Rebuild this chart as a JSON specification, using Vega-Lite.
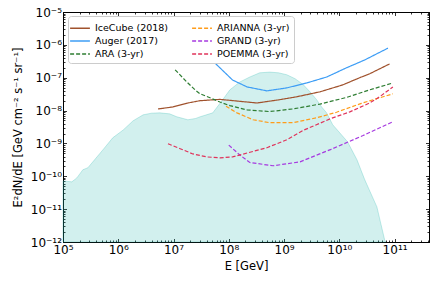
{
  "$schema": "https://vega.github.io/schema/vega-lite/v6.json",
  "autosize": {"type": "none"},
  "width": 366,
  "height": 230,
  "padding": {"left": 63, "top": 12, "right": 7, "bottom": 42},
  "config": {
    "font": "DejaVu Sans",
    "view": {"stroke": "black", "strokeWidth": 1},
    "axis": {
      "domainColor": "black",
      "tickColor": "black",
      "tickWidth": 0.8,
      "grid": false,
      "labelFont": "DejaVu Sans",
      "labelFontSize": 12,
      "labelColor": "black",
      "titleFont": "DejaVu Sans",
      "titleFontSize": 11.5,
      "titleFontWeight": "normal",
      "titleColor": "black"
    }
  },
  "datasets": {
    "model": [
      {"E": 1e5, "F": 7.24e-11},
      {"E": 1.445e5, "F": 6.76e-11},
      {"E": 1.778e5, "F": 8.91e-11},
      {"E": 2.29e5, "F": 1.58e-10},
      {"E": 2.82e5, "F": 1.82e-10},
      {"E": 3.47e5, "F": 2.75e-10},
      {"E": 5.25e5, "F": 6.31e-10},
      {"E": 7.94e5, "F": 1.48e-9},
      {"E": 1.23e6, "F": 2.57e-9},
      {"E": 1.86e6, "F": 4.9e-9},
      {"E": 2.82e6, "F": 7.41e-9},
      {"E": 3.98e6, "F": 8.32e-9},
      {"E": 5.62e6, "F": 8.51e-9},
      {"E": 8.51e6, "F": 7.94e-9},
      {"E": 1.148e7, "F": 6.46e-9},
      {"E": 1.82e7, "F": 5.25e-9},
      {"E": 2.51e7, "F": 5.75e-9},
      {"E": 3.02e7, "F": 6.46e-9},
      {"E": 5.13e7, "F": 8.51e-9},
      {"E": 7.76e7, "F": 2.14e-8},
      {"E": 1.047e8, "F": 4.27e-8},
      {"E": 1.585e8, "F": 7.41e-8},
      {"E": 2.4e8, "F": 1.05e-7},
      {"E": 3.63e8, "F": 1.41e-7},
      {"E": 5.5e8, "F": 1.48e-7},
      {"E": 7.94e8, "F": 1.41e-7},
      {"E": 1.122e9, "F": 1.23e-7},
      {"E": 1.585e9, "F": 9.33e-8},
      {"E": 2.19e9, "F": 6.31e-8},
      {"E": 2.95e9, "F": 3.72e-8},
      {"E": 3.89e9, "F": 2.14e-8},
      {"E": 4.79e9, "F": 1.29e-8},
      {"E": 5.89e9, "F": 8.51e-9},
      {"E": 7.59e9, "F": 3.72e-9},
      {"E": 1.41e10, "F": 1.12e-9},
      {"E": 2.09e10, "F": 3.16e-10},
      {"E": 2.88e10, "F": 7.94e-11},
      {"E": 4.79e10, "F": 1.17e-11},
      {"E": 6.61e10, "F": 1.17e-12},
      {"E": 6.92e10, "F": 1.0e-12}
    ],
    "sens": [
      {"d": "IceCube (2018)", "E": 5.25e6, "F": 1.12e-8},
      {"d": "IceCube (2018)", "E": 9.77e6, "F": 1.29e-8},
      {"d": "IceCube (2018)", "E": 1.82e7, "F": 1.7e-8},
      {"d": "IceCube (2018)", "E": 3.02e7, "F": 2.0e-8},
      {"d": "IceCube (2018)", "E": 6.92e7, "F": 2.19e-8},
      {"d": "IceCube (2018)", "E": 1.41e8, "F": 1.95e-8},
      {"d": "IceCube (2018)", "E": 3.24e8, "F": 1.7e-8},
      {"d": "IceCube (2018)", "E": 8.32e8, "F": 2.14e-8},
      {"d": "IceCube (2018)", "E": 1.7e9, "F": 2.63e-8},
      {"d": "IceCube (2018)", "E": 4.47e9, "F": 3.72e-8},
      {"d": "IceCube (2018)", "E": 1.15e10, "F": 6.03e-8},
      {"d": "IceCube (2018)", "E": 2.34e10, "F": 1.0e-7},
      {"d": "IceCube (2018)", "E": 3.55e10, "F": 1.32e-7},
      {"d": "IceCube (2018)", "E": 8.13e10, "F": 2.63e-7},
      {"d": "Auger (2017)", "E": 4.9e7, "F": 3.47e-7},
      {"d": "Auger (2017)", "E": 6.92e7, "F": 2.0e-7},
      {"d": "Auger (2017)", "E": 1.17e8, "F": 8.51e-8},
      {"d": "Auger (2017)", "E": 2.14e8, "F": 5.25e-8},
      {"d": "Auger (2017)", "E": 4.9e8, "F": 3.98e-8},
      {"d": "Auger (2017)", "E": 1.12e9, "F": 4.9e-8},
      {"d": "Auger (2017)", "E": 2.57e9, "F": 6.92e-8},
      {"d": "Auger (2017)", "E": 5.89e9, "F": 1.05e-7},
      {"d": "Auger (2017)", "E": 1.35e10, "F": 2.0e-7},
      {"d": "Auger (2017)", "E": 2.88e10, "F": 3.47e-7},
      {"d": "Auger (2017)", "E": 7.59e10, "F": 7.94e-7},
      {"d": "ARA (3-yr)", "E": 1.07e7, "F": 1.74e-7},
      {"d": "ARA (3-yr)", "E": 1.74e7, "F": 7.41e-8},
      {"d": "ARA (3-yr)", "E": 2.45e7, "F": 4.27e-8},
      {"d": "ARA (3-yr)", "E": 3.02e7, "F": 3.24e-8},
      {"d": "ARA (3-yr)", "E": 4.57e7, "F": 2.45e-8},
      {"d": "ARA (3-yr)", "E": 6.92e7, "F": 1.82e-8},
      {"d": "ARA (3-yr)", "E": 1.05e8, "F": 1.41e-8},
      {"d": "ARA (3-yr)", "E": 2.14e8, "F": 1.05e-8},
      {"d": "ARA (3-yr)", "E": 5.5e8, "F": 9.33e-9},
      {"d": "ARA (3-yr)", "E": 1.45e9, "F": 1.12e-8},
      {"d": "ARA (3-yr)", "E": 4.47e9, "F": 1.58e-8},
      {"d": "ARA (3-yr)", "E": 1.35e10, "F": 2.51e-8},
      {"d": "ARA (3-yr)", "E": 3.55e10, "F": 4.27e-8},
      {"d": "ARA (3-yr)", "E": 9.33e10, "F": 6.92e-8},
      {"d": "ARIANNA (3-yr)", "E": 8.91e7, "F": 1.35e-8},
      {"d": "ARIANNA (3-yr)", "E": 1.41e8, "F": 8.51e-9},
      {"d": "ARIANNA (3-yr)", "E": 2.75e8, "F": 5.25e-9},
      {"d": "ARIANNA (3-yr)", "E": 5.5e8, "F": 4.27e-9},
      {"d": "ARIANNA (3-yr)", "E": 1.45e9, "F": 4.27e-9},
      {"d": "ARIANNA (3-yr)", "E": 3.89e9, "F": 6.03e-9},
      {"d": "ARIANNA (3-yr)", "E": 8.91e9, "F": 8.91e-9},
      {"d": "ARIANNA (3-yr)", "E": 2.51e10, "F": 1.66e-8},
      {"d": "ARIANNA (3-yr)", "E": 9.33e10, "F": 3.24e-8},
      {"d": "GRAND (3-yr)", "E": 1.0e8, "F": 8.91e-10},
      {"d": "GRAND (3-yr)", "E": 1.58e8, "F": 4.47e-10},
      {"d": "GRAND (3-yr)", "E": 2.4e8, "F": 2.63e-10},
      {"d": "GRAND (3-yr)", "E": 6.31e8, "F": 2.09e-10},
      {"d": "GRAND (3-yr)", "E": 1.95e9, "F": 2.75e-10},
      {"d": "GRAND (3-yr)", "E": 7.08e9, "F": 6.61e-10},
      {"d": "GRAND (3-yr)", "E": 2.69e10, "F": 1.74e-9},
      {"d": "GRAND (3-yr)", "E": 9.33e10, "F": 4.57e-9},
      {"d": "POEMMA (3-yr)", "E": 7.94e6, "F": 9.77e-10},
      {"d": "POEMMA (3-yr)", "E": 1.32e7, "F": 6.92e-10},
      {"d": "POEMMA (3-yr)", "E": 2.24e7, "F": 4.79e-10},
      {"d": "POEMMA (3-yr)", "E": 3.98e7, "F": 3.89e-10},
      {"d": "POEMMA (3-yr)", "E": 6.92e7, "F": 3.63e-10},
      {"d": "POEMMA (3-yr)", "E": 1.17e8, "F": 3.89e-10},
      {"d": "POEMMA (3-yr)", "E": 4.9e8, "F": 7.41e-10},
      {"d": "POEMMA (3-yr)", "E": 1.12e9, "F": 1.29e-9},
      {"d": "POEMMA (3-yr)", "E": 2.24e9, "F": 2.51e-9},
      {"d": "POEMMA (3-yr)", "E": 7.08e9, "F": 5.75e-9},
      {"d": "POEMMA (3-yr)", "E": 1.55e10, "F": 9.12e-9},
      {"d": "POEMMA (3-yr)", "E": 3.55e10, "F": 1.7e-8},
      {"d": "POEMMA (3-yr)", "E": 5.37e10, "F": 2.63e-8},
      {"d": "POEMMA (3-yr)", "E": 9.33e10, "F": 5.25e-8}
    ]
  },
  "resolve": {"axis": {"x": "independent", "y": "independent"}},
  "layer": [
    {
      "data": {"name": "model"},
      "mark": {"type": "area", "fill": "#20b2aa", "fillOpacity": 0.2, "stroke": "#20b2aa", "strokeOpacity": 0.25, "strokeWidth": 1},
      "encoding": {
        "x": {
          "field": "E", "type": "quantitative",
          "scale": {"type": "log", "domain": [1e5, 4.2e11], "nice": false},
          "axis": {
            "orient": "bottom",
            "title": "E [GeV]",
            "titlePadding": 3,
            "values": [1e5,2e5,3e5,4e5,5e5,6e5,7e5,8e5,9e5,1e6,2e6,3e6,4e6,5e6,6e6,7e6,8e6,9e6,1e7,2e7,3e7,4e7,5e7,6e7,7e7,8e7,9e7,1e8,2e8,3e8,4e8,5e8,6e8,7e8,8e8,9e8,1e9,2e9,3e9,4e9,5e9,6e9,7e9,8e9,9e9,1e10,2e10,3e10,4e10,5e10,6e10,7e10,8e10,9e10,1e11,2e11,3e11,4e11],
            "tickSize": {"condition": {"test": "abs(log(datum.value)/LN10 - round(log(datum.value)/LN10)) < 0.01", "value": -3.5}, "value": -2},
            "labelPadding": 6,
            "labelFlush": false,
            "labelOverlap": false,
            "labelExpr": "abs(log(datum.value)/LN10 - round(log(datum.value)/LN10)) < 0.01 ? '10' + replace(replace(replace(replace(replace(replace(replace(replace(replace(replace(replace(toString(round(log(datum.value)/LN10)),'-','⁻'),regexp('0','g'),'⁰'),regexp('1','g'),'¹'),regexp('2','g'),'²'),regexp('3','g'),'³'),regexp('4','g'),'⁴'),regexp('5','g'),'⁵'),regexp('6','g'),'⁶'),regexp('7','g'),'⁷'),regexp('8','g'),'⁸'),regexp('9','g'),'⁹') : ''"
          }
        },
        "y": {
          "field": "F", "type": "quantitative",
          "scale": {"type": "log", "domain": [1e-12, 1e-5], "nice": false},
          "axis": {
            "orient": "left",
            "title": "E²dN/dE [GeV cm⁻² s⁻¹ sr⁻¹]",
            "titlePadding": 7,
            "values": [1e-12,2e-12,3e-12,4e-12,5e-12,6e-12,7e-12,8e-12,9e-12,1e-11,2e-11,3e-11,4e-11,5e-11,6e-11,7e-11,8e-11,9e-11,1e-10,2e-10,3e-10,4e-10,5e-10,6e-10,7e-10,8e-10,9e-10,1e-9,2e-9,3e-9,4e-9,5e-9,6e-9,7e-9,8e-9,9e-9,1e-8,2e-8,3e-8,4e-8,5e-8,6e-8,7e-8,8e-8,9e-8,1e-7,2e-7,3e-7,4e-7,5e-7,6e-7,7e-7,8e-7,9e-7,1e-6,2e-6,3e-6,4e-6,5e-6,6e-6,7e-6,8e-6,9e-6,1e-5],
            "tickSize": {"condition": {"test": "abs(log(datum.value)/LN10 - round(log(datum.value)/LN10)) < 0.01", "value": -3.5}, "value": -2},
            "labelPadding": 5,
            "labelFlush": false,
            "labelOverlap": false,
            "labelExpr": "abs(log(datum.value)/LN10 - round(log(datum.value)/LN10)) < 0.01 ? '10' + replace(replace(replace(replace(replace(replace(replace(replace(replace(replace(replace(toString(round(log(datum.value)/LN10)),'-','⁻'),regexp('0','g'),'⁰'),regexp('1','g'),'¹'),regexp('2','g'),'²'),regexp('3','g'),'³'),regexp('4','g'),'⁴'),regexp('5','g'),'⁵'),regexp('6','g'),'⁶'),regexp('7','g'),'⁷'),regexp('8','g'),'⁸'),regexp('9','g'),'⁹') : ''"
          }
        },
        "y2": {"datum": 1e-12}
      }
    },
    {
      "data": {"name": "sens"},
      "mark": {"type": "line", "strokeWidth": 1.2, "clip": true},
      "encoding": {
        "x": {
          "field": "E", "type": "quantitative",
          "axis": {
            "orient": "top", "title": null, "labels": false,
            "values": [1e5,2e5,3e5,4e5,5e5,6e5,7e5,8e5,9e5,1e6,2e6,3e6,4e6,5e6,6e6,7e6,8e6,9e6,1e7,2e7,3e7,4e7,5e7,6e7,7e7,8e7,9e7,1e8,2e8,3e8,4e8,5e8,6e8,7e8,8e8,9e8,1e9,2e9,3e9,4e9,5e9,6e9,7e9,8e9,9e9,1e10,2e10,3e10,4e10,5e10,6e10,7e10,8e10,9e10,1e11,2e11,3e11,4e11],
            "tickSize": {"condition": {"test": "abs(log(datum.value)/LN10 - round(log(datum.value)/LN10)) < 0.01", "value": -3.5}, "value": -2}
          }
        },
        "y": {
          "field": "F", "type": "quantitative",
          "axis": {
            "orient": "right", "title": null, "labels": false,
            "values": [1e-12,2e-12,3e-12,4e-12,5e-12,6e-12,7e-12,8e-12,9e-12,1e-11,2e-11,3e-11,4e-11,5e-11,6e-11,7e-11,8e-11,9e-11,1e-10,2e-10,3e-10,4e-10,5e-10,6e-10,7e-10,8e-10,9e-10,1e-9,2e-9,3e-9,4e-9,5e-9,6e-9,7e-9,8e-9,9e-9,1e-8,2e-8,3e-8,4e-8,5e-8,6e-8,7e-8,8e-8,9e-8,1e-7,2e-7,3e-7,4e-7,5e-7,6e-7,7e-7,8e-7,9e-7,1e-6,2e-6,3e-6,4e-6,5e-6,6e-6,7e-6,8e-6,9e-6,1e-5],
            "tickSize": {"condition": {"test": "abs(log(datum.value)/LN10 - round(log(datum.value)/LN10)) < 0.01", "value": -3.5}, "value": -2}
          }
        },
        "color": {
          "field": "d", "type": "nominal",
          "scale": {
            "domain": ["IceCube (2018)", "Auger (2017)", "ARA (3-yr)", "ARIANNA (3-yr)", "GRAND (3-yr)", "POEMMA (3-yr)"],
            "range": ["#a0522d", "#3d9df5", "#2e7d32", "#ff9c1a", "#a63ae0", "#e0335a"]
          },
          "legend": {
            "title": null,
            "orient": "none",
            "legendX": 5,
            "legendY": 4,
            "columns": 2,
            "columnPadding": 20,
            "rowPadding": -1,
            "padding": 4,
            "fillColor": "white",
            "strokeColor": "#cccccc",
            "cornerRadius": 3,
            "symbolType": "M-1.4,0H1.4",
            "symbolSize": 200,
            "symbolStrokeWidth": 1.3,
            "labelFont": "DejaVu Sans",
            "labelFontSize": 9.5,
            "labelColor": "black",
            "labelOffset": 7
          }
        },
        "strokeDash": {
          "field": "d", "type": "nominal",
          "scale": {
            "domain": ["IceCube (2018)", "Auger (2017)", "ARA (3-yr)", "ARIANNA (3-yr)", "GRAND (3-yr)", "POEMMA (3-yr)"],
            "range": [[1, 0], [1, 0], [4, 2], [4, 2], [4, 2], [4, 2]]
          },
          "legend": null
        }
      }
    }
  ]
}
